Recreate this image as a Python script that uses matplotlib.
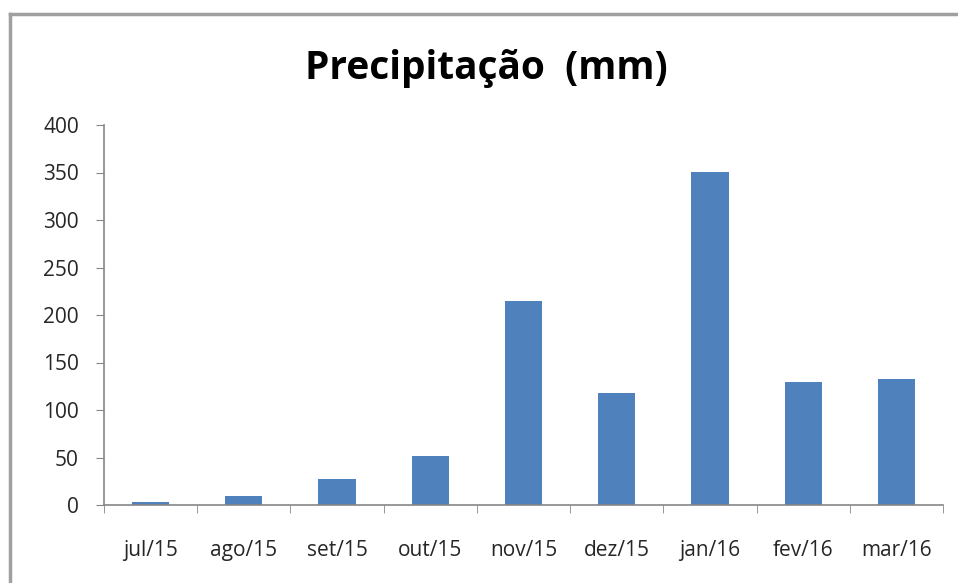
import matplotlib.pyplot as plt
from matplotlib.lines import Line2D

# data
MONTHS = ["jul/15", "ago/15", "set/15", "out/15", "nov/15",
          "dez/15", "jan/16", "fev/16", "mar/16"]
PRECIP = [3, 9, 27, 52, 215, 118, 351, 130, 133]

BAR_COLOR = "#4F81BD"
AXIS_COLOR = "#868686"
TEXT_COLOR = "#262626"

plt.rcParams['font.family'] = ['Open Sans', 'DejaVu Sans']

fig = plt.figure(figsize=(9.58, 5.83), dpi=100)
ax = fig.add_axes([104 / 958, 1 - 505 / 583, 839 / 958, 380 / 583])

x = range(len(MONTHS))
ax.bar(x, PRECIP, width=0.4, color=BAR_COLOR, zorder=2)

ax.set_xlim(-0.5, len(MONTHS) - 0.5)
ax.set_ylim(0, 400)
ax.set_yticks(range(0, 401, 50))
ax.set_xticks(list(x))
ax.set_xticklabels(MONTHS)
# tick marks sit on the category boundaries
ax.set_xticks([i - 0.5 for i in range(len(MONTHS) + 1)], minor=True)
ax.tick_params(axis='x', which='major', length=0, pad=25,
               labelsize=15, labelcolor=TEXT_COLOR)
ax.tick_params(axis='x', which='minor', length=6, color=AXIS_COLOR, direction='out')
ax.tick_params(axis='y', length=6, color=AXIS_COLOR, pad=12,
               labelsize=15, labelcolor=TEXT_COLOR)

for side in ['top', 'right']:
    ax.spines[side].set_visible(False)
for side in ['left', 'bottom']:
    ax.spines[side].set_color(AXIS_COLOR)
    ax.spines[side].set_linewidth(1.2)
ax.spines['bottom'].set_zorder(3)

fig.text(486 / 958, 1 - 68 / 583, "Precipitação  (mm)", ha='center', va='center',
         fontsize=28, fontweight='bold', color='black')

# gray chart-area border (left and top edges visible)
bx, by = 10 / 958, 1 - 14 / 583
fig.add_artist(Line2D([bx, bx], [0, by], color='#A0A0A0', lw=2.5, transform=fig.transFigure))
fig.add_artist(Line2D([bx, 1], [by, by], color='#A0A0A0', lw=2.5, transform=fig.transFigure))

fig.savefig("out.png", dpi=100)
